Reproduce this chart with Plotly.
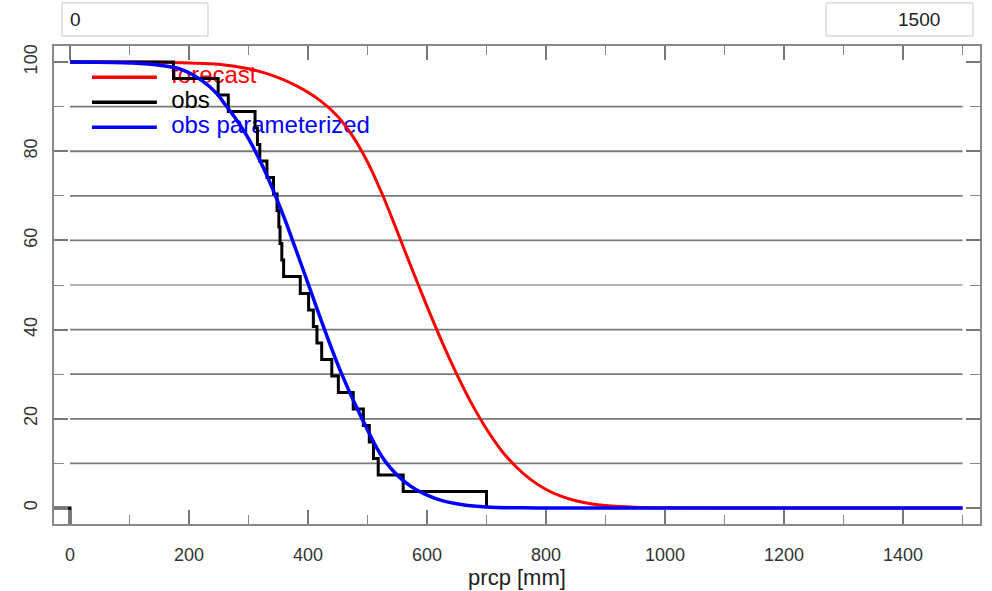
import plotly.graph_objects as go

# ---- data ----
forecast_x = [0, 100, 150, 200, 250, 300, 340, 380, 420, 450, 475, 500, 525, 550, 575, 600, 625, 650,
              675, 700, 725, 750, 775, 800, 825, 850, 875, 900, 950, 1000, 1100, 1500]
forecast_y = [100, 99.99, 99.95, 99.8, 99.5, 98.5, 97.0, 94.7, 91.4, 87.8, 83.4, 77.6, 70.3, 62.0, 53.5,
              45.2, 37.3, 30.0, 23.4, 17.7, 12.9, 9.2, 6.3, 4.15, 2.65, 1.63, 0.97, 0.55, 0.16, 0.04,
              0.0, 0.0]

obs_x = [-30, 0, 0, None, 0, 174, 249, 266, 311, 315, 319, 331, 342, 348, 351, 353, 356, 359, 387, 401,
         409, 415, 423, 440, 451, 476, 493, 503, 510, 518, 560, 700]
obs_y = [0, 0, -5, None, 100, 96.3, 92.6, 88.9, 85.2, 81.5, 77.8, 74.1, 70.4, 66.7, 63.0, 59.3, 55.6,
         51.9, 48.1, 44.4, 40.7, 37.0, 33.3, 29.6, 25.9, 22.2, 18.5, 14.8, 11.1, 7.4, 3.7, 0]

param_x = [0, 100, 150, 190, 220, 247, 260, 280, 301, 325, 345, 362, 380, 401, 427, 457, 492, 530,
           571, 600, 627, 660, 700, 760, 800, 1500]
param_y = [100, 99.8, 99.3, 98.2, 96.0, 92.9, 90.6, 87.0, 82.6, 76.3, 70.1, 64.4, 57.8, 50.0, 40.3,
           29.9, 19.7, 10.4, 5.0, 2.9, 1.6, 0.75, 0.25, 0.03, 0.0, 0.0]

grid_levels = [10, 20, 30, 40, 50, 60, 70, 80, 90]
x_ticks = [0, 200, 400, 600, 800, 1000, 1200, 1400]
y_ticks = [0, 20, 40, 60, 80, 100]
legend_names = ["forecast", "obs", "obs parameterized"]
legend_colors = ["#ff0000", "#000000", "#0000ff"]
box_left_text = "0"
box_right_text = "1500"

FONT = "Liberation Sans, Arial, Helvetica, sans-serif"

fig = go.Figure()

# legend text drawn first so curves pass over it
legend_y = [96.6, 91.0, 85.4]
for name, col, ly in zip(legend_names, legend_colors, legend_y):
    fig.add_trace(go.Scatter(x=[170], y=[ly], mode="text", text=[name],
                             textposition="middle right", hoverinfo="skip",
                             textfont=dict(color=col, size=24, family=FONT)))

fig.add_trace(go.Scatter(x=forecast_x, y=forecast_y, mode="lines", name="forecast",
                         line=dict(color="#ff0000", width=3, shape="spline", smoothing=1.0)))
fig.add_trace(go.Scatter(x=obs_x, y=obs_y, mode="lines", name="obs",
                         line=dict(color="#000000", width=3, shape="hv")))
fig.add_trace(go.Scatter(x=param_x, y=param_y, mode="lines", name="obs parameterized",
                         line=dict(color="#0000ff", width=3.5, shape="spline", smoothing=1.1)))

shapes = []
for g in grid_levels:
    shapes.append(dict(type="line", xref="x", yref="y", x0=0, x1=1500, y0=g, y1=g,
                       line=dict(color="#b4b4b4" if g == 50 else "#7a7a7a", width=1.8),
                       layer="below"))
for col, ly in zip(legend_colors, legend_y):
    shapes.append(dict(type="line", xref="x", yref="y", x0=37, x1=146, y0=ly, y1=ly,
                       line=dict(color=col, width=3.5), layer="below"))

# input boxes above the plot
shapes.append(dict(type="rect", xref="paper", yref="paper", x0=0.0086, x1=0.1663,
                   y0=1.0209, y1=1.090, line=dict(color="#c8c8c8", width=1), fillcolor="white"))
shapes.append(dict(type="rect", xref="paper", yref="paper", x0=0.8337, x1=0.9924,
                   y0=1.0209, y1=1.090, line=dict(color="#c8c8c8", width=1), fillcolor="white"))

annotations = [
    dict(text=box_left_text, xref="paper", yref="paper", x=0.0151, y=1.0554, xanchor="left",
         yanchor="middle", showarrow=False, font=dict(size=19, color="#222", family=FONT)),
    dict(text=box_right_text, xref="paper", yref="paper", x=0.959, y=1.0554, xanchor="right",
         yanchor="middle", showarrow=False, font=dict(size=19, color="#222", family=FONT)),
]

fig.update_layout(
    width=992, height=591,
    margin=dict(l=54, r=12, t=46, b=67, autoexpand=False),
    plot_bgcolor="white", paper_bgcolor="white",
    showlegend=False,
    font=dict(family=FONT, size=18, color="#333"),
    shapes=shapes, annotations=annotations,
    xaxis=dict(range=[-26.9, 1529.4], tickvals=x_ticks, ticks="inside", ticklen=14,
               tickwidth=1.5, tickcolor="#777", showline=True, linecolor="#888", linewidth=1.5,
               mirror="ticks", showgrid=False, zeroline=False, ticklabelstandoff=14,
               automargin=False,
               minor=dict(dtick=100, tick0=0, ticks="inside", ticklen=9, tickwidth=1.2,
                          tickcolor="#888", showgrid=False),
               title=dict(text="prcp [mm]", standoff=2, font=dict(size=22, color="#222"))),
    yaxis=dict(range=[-3.59, 103.6], tickvals=y_ticks, tickangle=-90, ticks="inside", ticklen=14,
               tickwidth=1.5, tickcolor="#777", showline=True, linecolor="#888", linewidth=1.5,
               mirror="ticks", showgrid=False, zeroline=False, ticklabelstandoff=8,
               automargin=False,
               minor=dict(dtick=10, tick0=0, ticks="inside", ticklen=10, tickwidth=1.2,
                          tickcolor="#888", showgrid=False)),
)

# remove the browser's default 8px body margin so the figure fills the window exactly
fig.write_html("out.html", config={"displayModeBar": False},
               post_script="document.body.style.margin='0';document.body.style.overflow='hidden';")
